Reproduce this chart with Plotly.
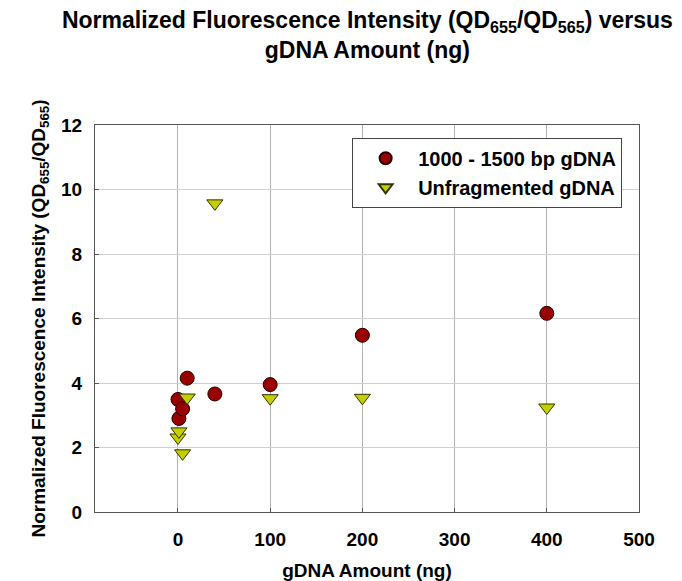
import plotly.graph_objects as go

# Data
frag_x = [0, 1, 5, 10, 40, 100, 200, 400]
frag_y = [3.49, 2.90, 3.20, 4.15, 3.66, 3.95, 5.48, 6.16]
unfrag_x = [0, 1, 5, 10, 40, 100, 200, 400]
unfrag_y = [2.31, 2.50, 1.82, 3.55, 9.57, 3.53, 3.54, 3.24]
series_names = ["1000 - 1500 bp gDNA", "Unfragmented gDNA"]
x_ticks = [0, 100, 200, 300, 400, 500]
y_ticks = [0, 2, 4, 6, 8, 10, 12]

FONT = "Liberation Sans, Arial, sans-serif"
NARROW = "Liberation Sans Narrow, Arial Narrow, Liberation Sans, sans-serif"

fig = go.Figure()
fig.add_trace(go.Scatter(
    x=frag_x, y=frag_y, mode="markers", name=series_names[0],
    marker=dict(symbol="circle", size=14, color="#990000",
                line=dict(color="#220000", width=1)),
))
fig.add_trace(go.Scatter(
    x=unfrag_x, y=unfrag_y, mode="markers", name=series_names[1],
    marker=dict(symbol="triangle-down", size=14, color="#C4CF00",
                line=dict(color="#333300", width=1)),
))

fig.update_layout(
    width=682, height=581,
    margin=dict(l=87, r=51, t=117, b=72),
    paper_bgcolor="white", plot_bgcolor="white",
    font=dict(family=FONT, color="black"),
    title=dict(
        text="<b>Normalized Fluorescence Intensity (QD<sub>655</sub>/QD<sub>565</sub>) versus<br>gDNA Amount (ng)</b>",
        x=0.527, xanchor="center", y=0.965, yanchor="top",
        font=dict(size=23, family=NARROW),
    ),
    legend=dict(
        x=0.969, xanchor="right", y=0.967, yanchor="top",
        bgcolor="white", bordercolor="#444444", borderwidth=1,
        font=dict(size=20, family=FONT, weight="bold"),
        itemsizing="constant", tracegroupgap=0,
        itemwidth=55,
    ),
    showlegend=True,
)

fig.update_xaxes(
    range=[-90, 500], tickvals=x_ticks, ticktext=[f"<b>{v}</b>" for v in x_ticks],
    showgrid=True, gridcolor="#b0b0b0", gridwidth=1,
    showline=True, linecolor="#555555", linewidth=1, mirror=True,
    ticks="inside", ticklen=4, tickcolor="#555555",
    zeroline=False, ticklabelstandoff=10,
    tickfont=dict(size=19, family=FONT),
    title=dict(text="<b>gDNA Amount (ng)</b>", font=dict(size=19, family=FONT), standoff=14),
)
fig.update_yaxes(
    range=[0, 12], tickvals=y_ticks, ticktext=[f"<b>{v}</b>" for v in y_ticks],
    showgrid=True, gridcolor="#d0d0d0", gridwidth=1,
    showline=True, linecolor="#555555", linewidth=1, mirror=True,
    ticks="inside", ticklen=4, tickcolor="#555555",
    zeroline=False, ticklabelstandoff=8,
    tickfont=dict(size=19, family=FONT),
    title=dict(text="<b>Normalized Fluorescence Intensity (QD<sub>655</sub>/QD<sub>565</sub>)</b>",
               font=dict(size=19, family=FONT), standoff=10),
)

fig.write_html("out.html")
